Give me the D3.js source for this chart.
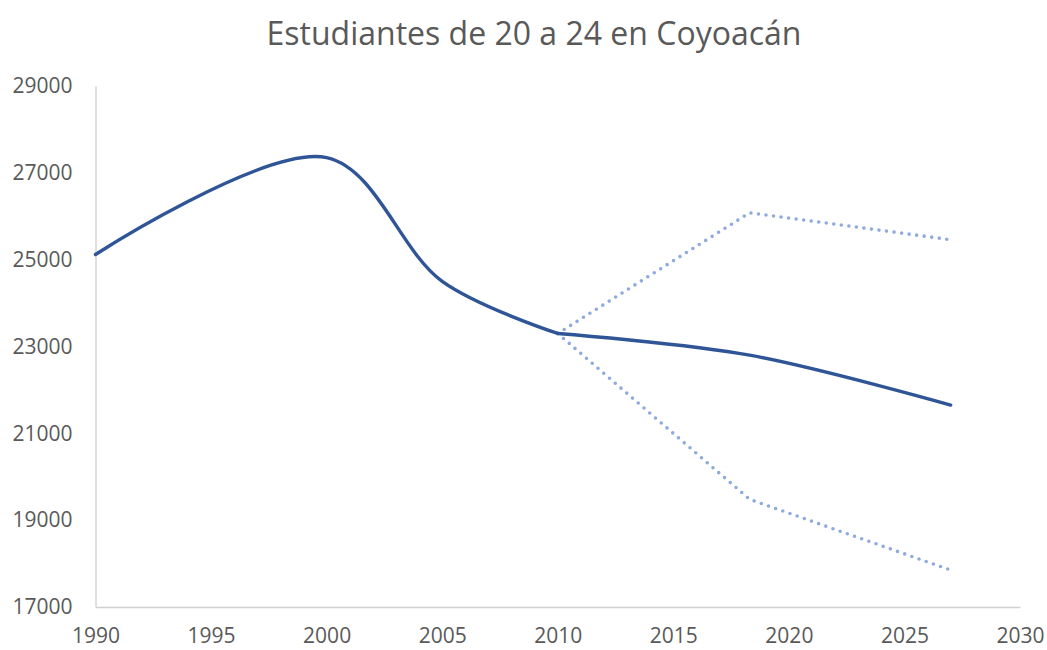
<!DOCTYPE html>
<html>
<head>
<meta charset="utf-8">
<script src="https://cdn.jsdelivr.net/npm/d3@7.9.0/dist/d3.min.js"></script>
<style>
  body { margin: 0; background: #fff; }
  svg { display: block; font-family: "Open Sans", sans-serif; }
</style>
</head>
<body>
<svg id="chart" width="1047" height="650"></svg>
<script>
const title = 'Estudiantes de 20 a 24 en Coyoacán';

// observed series (smoothed)
const years = [1990, 2000, 2005, 2010];
const students = [25120, 27350, 24500, 23300];
// central projection and the two bounds (dotted)
const projYears = [2010, 2018.3, 2027];
const projValues = [23300, 22800, 21650];
const highValues = [23300, 26080, 25460];
const lowValues = [23300, 19480, 17850];

const xTicks = [1990, 1995, 2000, 2005, 2010, 2015, 2020, 2025, 2030];
const yTicks = [17000, 19000, 21000, 23000, 25000, 27000, 29000];

const svg = d3.select('#chart');
const x = d3.scaleLinear().domain([1990, 2030]).range([95.5, 1020]);
const y = d3.scaleLinear().domain([17000, 29000]).range([607, 86]);

svg.append('text')
  .attr('x', 534)
  .attr('y', 45)
  .attr('text-anchor', 'middle')
  .attr('font-size', 32)
  .attr('fill', '#595959')
  .text(title);

// axes
const xAxis = svg.append('g')
  .attr('transform', `translate(0,${y(17000)})`)
  .call(d3.axisBottom(x).tickValues(xTicks).tickFormat(d3.format('d')).tickSize(0).tickPadding(21));
const yAxis = svg.append('g')
  .attr('transform', `translate(${x(1990)},0)`)
  .call(d3.axisLeft(y).tickValues(yTicks).tickFormat(d3.format('d')).tickSize(0).tickPadding(23));

[xAxis, yAxis].forEach(g => {
  g.select('.domain').attr('stroke', '#d0d0d0').attr('stroke-width', 1.3);
  g.selectAll('text').attr('font-size', 21).attr('fill', '#595959').attr('font-family', '"Open Sans", sans-serif');
});

const smooth = d3.line()
  .x(d => x(d[0]))
  .y(d => y(d[1]))
  .curve(d3.curveCatmullRom.alpha(0.5));

const straight = d3.line()
  .x(d => x(d[0]))
  .y(d => y(d[1]));

[highValues, lowValues].forEach(vs => {
  svg.append('path')
    .datum(d3.zip(projYears, vs))
    .attr('d', straight)
    .attr('fill', 'none')
    .attr('stroke', '#8faadc')
    .attr('stroke-width', 3.6)
    .attr('stroke-linecap', 'round')
    .attr('stroke-dasharray', '0 7.6');
});

[[years, students], [projYears, projValues]].forEach(([xs, vs]) => {
  svg.append('path')
    .datum(d3.zip(xs, vs))
    .attr('d', smooth)
    .attr('fill', 'none')
    .attr('stroke', '#2f5597')
    .attr('stroke-width', 3.4)
    .attr('stroke-linecap', 'round');
});
</script>
</body>
</html>
